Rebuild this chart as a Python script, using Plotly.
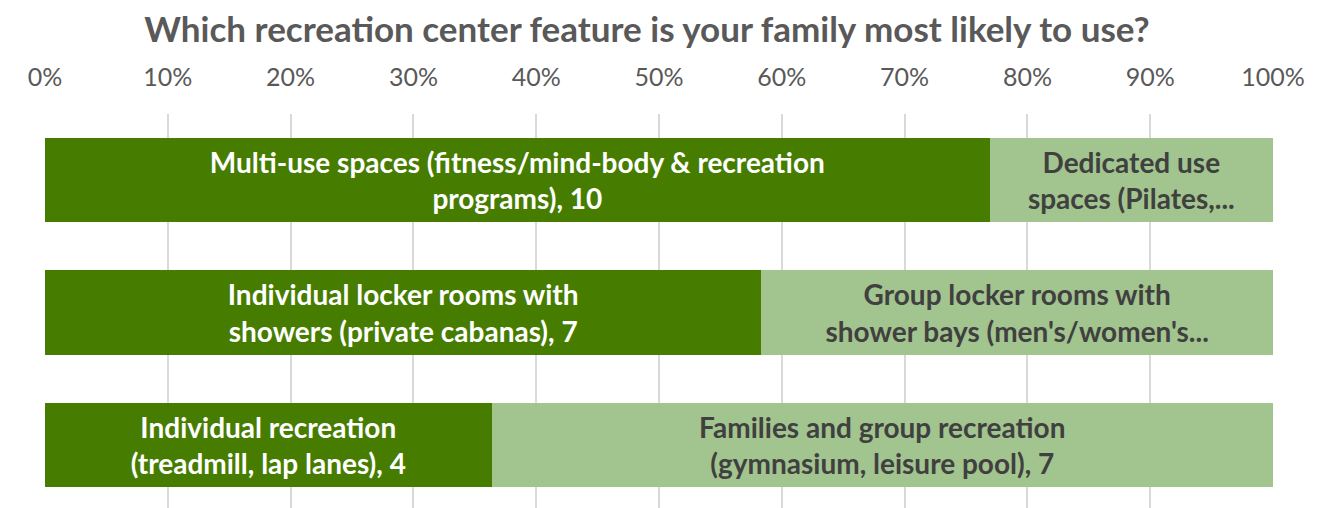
import plotly.graph_objects as go

rows = [0, 1, 2]
primary_labels = [
    "Multi-use spaces (fitness/mind-body & recreation<br>programs), 10",
    "Individual locker rooms with<br>showers (private cabanas), 7",
    "Individual recreation<br>(treadmill, lap lanes), 4",
]
primary_values = [10, 7, 4]
secondary_labels = [
    "Dedicated use<br>spaces (Pilates,...",
    "Group locker rooms with<br>shower bays (men's/women's...",
    "Families and group recreation<br>(gymnasium, leisure pool), 7",
]
secondary_values = [3, 5, 7]
tick_vals = [0, 10, 20, 30, 40, 50, 60, 70, 80, 90, 100]
tick_text = [f"{v}%" for v in tick_vals]

totals = [a + b for a, b in zip(primary_values, secondary_values)]
p_pct = [100 * a / t for a, t in zip(primary_values, totals)]
s_pct = [100 * b / t for b, t in zip(secondary_values, totals)]

FONT = "Lato"
fig = go.Figure()
fig.add_trace(go.Bar(
    y=rows, x=p_pct, orientation="h", width=0.64,
    marker=dict(color="#467d00", line=dict(width=0)),
    text=primary_labels, textposition="inside", insidetextanchor="middle",
    textfont=dict(family=FONT, size=28, color="white", weight="bold"),
    constraintext="none", hoverinfo="skip",
))
fig.add_trace(go.Bar(
    y=rows, x=s_pct, orientation="h", width=0.64,
    marker=dict(color="#a2c48e", line=dict(width=0)),
    text=secondary_labels, textposition="inside", insidetextanchor="middle",
    textfont=dict(family=FONT, size=28, color="#404040", weight="bold"),
    constraintext="none", hoverinfo="skip",
))
fig.update_layout(
    barmode="stack",
    width=1339, height=508,
    margin=dict(l=37, r=74, t=106, b=8, autoexpand=False),
    paper_bgcolor="white", plot_bgcolor="white",
    showlegend=False,
    title=dict(
        text="Which recreation center feature is your family most likely to use?",
        x=639 / 1339, xref="container", xanchor="center",
        y=1 - 22 / 508, yref="container", yanchor="middle",
        font=dict(family=FONT, size=35, color="#595959", weight="bold"),
    ),
    xaxis=dict(
        side="top", range=[0, 100], tickvals=tick_vals, ticktext=tick_text,
        showgrid=True, gridcolor="#d9d9d9", gridwidth=1.5,
        zeroline=False, showline=False, ticks="", automargin=False,
        tickfont=dict(family=FONT, size=25, color="#595959"),
        ticklabelstandoff=22,
    ),
    yaxis=dict(
        range=[2.475, -0.498], showticklabels=False, showgrid=False,
        zeroline=False, showline=False, ticks="", automargin=False,
    ),
)
fig.write_html("out.html")
